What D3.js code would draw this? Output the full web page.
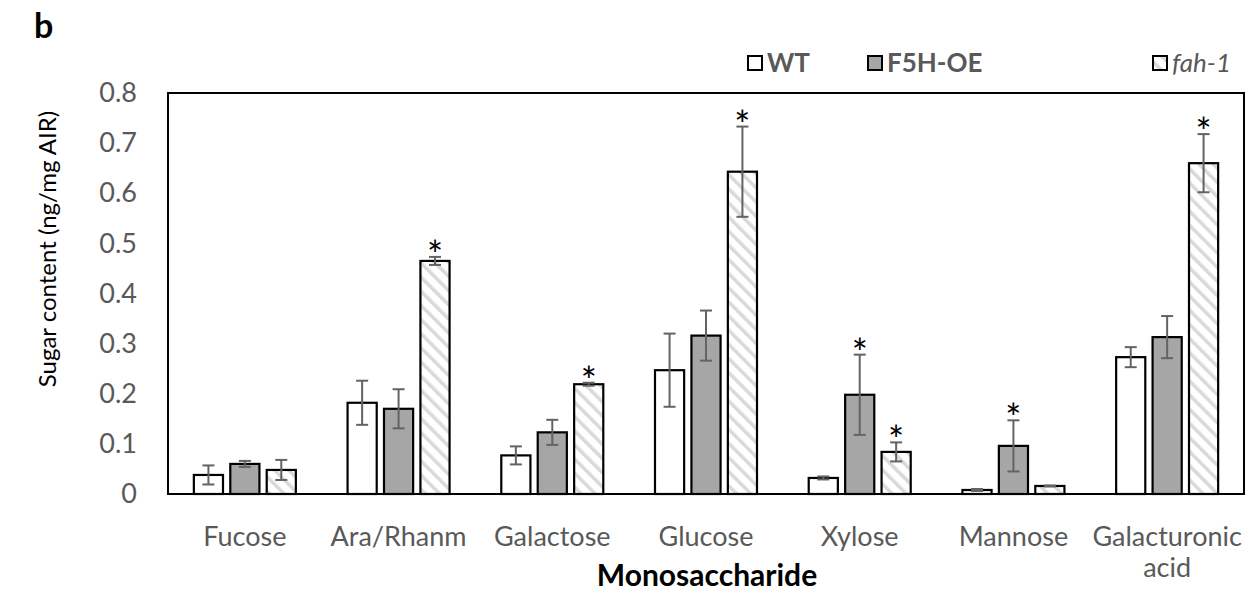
<!DOCTYPE html>
<html><head><meta charset="utf-8">
<script src="https://cdn.jsdelivr.net/npm/d3@7/dist/d3.min.js"></script>
<style>body{margin:0;background:#fff}svg{display:block}text{font-family:Lato,"Open Sans",sans-serif}</style>
</head><body><svg id="c" width="1247" height="593"></svg>
<script>
const categories = ["Fucose","Ara/Rhanm","Galactose","Glucose","Xylose","Mannose","Galacturonic acid"];
const seriesNames = ["WT","F5H-OE","fah-1"];
const wtValues   = [0.038,0.182,0.077,0.247,0.032,0.008,0.273];
const wtErrors   = [0.019,0.044,0.018,0.073,0.003,0.002,0.020];
const f5hValues  = [0.060,0.170,0.123,0.316,0.198,0.096,0.313];
const f5hErrors  = [0.006,0.039,0.025,0.050,0.080,0.051,0.042];
const fahValues  = [0.048,0.465,0.219,0.643,0.084,0.016,0.660];
const fahErrors  = [0.020,0.008,0.003,0.090,0.019,0.001,0.058];
const wtSig  = [0,0,0,0,0,0,0];
const f5hSig = [0,0,0,0,1,1,0];
const fahSig = [0,1,1,1,1,0,1];
const yTicks = [0,0.1,0.2,0.3,0.4,0.5,0.6,0.7,0.8];

const series = [
  {name:seriesNames[0], values:wtValues, errors:wtErrors, sig:wtSig, fill:"#ffffff"},
  {name:seriesNames[1], values:f5hValues, errors:f5hErrors, sig:f5hSig, fill:"#a6a6a6"},
  {name:seriesNames[2], values:fahValues, errors:fahErrors, sig:fahSig, fill:"url(#hatch)"}
];

const svg = d3.select("#c");
const L=168, R=1244, T=93, B=494;
const defs = svg.append("defs");
const pat = defs.append("pattern").attr("id","hatch").attr("patternUnits","userSpaceOnUse")
  .attr("width",10).attr("height",10).attr("patternTransform","rotate(-45)");
pat.append("rect").attr("width",10).attr("height",10).attr("fill","#fff");
pat.append("rect").attr("x",0).attr("y",0).attr("width",3.5).attr("height",10).attr("fill","#d9d9d9");

const x = d3.scaleBand().domain(categories).range([L,R]);
const xs = d3.scaleBand().domain(seriesNames).range([0,102]).paddingInner(0.2);
const y = d3.scaleLinear().domain([0,0.8]).range([B,T]);

svg.append("rect").attr("x",L).attr("y",T).attr("width",R-L).attr("height",B-T)
  .attr("fill","none").attr("stroke","#000").attr("stroke-width",2);

const yAxis = svg.append("g").attr("transform",`translate(${L},0)`)
  .call(d3.axisLeft(y).tickValues(yTicks).tickSize(0).tickPadding(31).tickFormat(d=>d===0?"0":d3.format(".1f")(d)));
yAxis.select(".domain").remove();
yAxis.selectAll("text").attr("font-size",27).attr("fill","#595959").attr("font-family","Lato,sans-serif");

series.forEach((s,si)=>{
  const g = svg.append("g");
  categories.forEach((c,i)=>{
    const cx = x(c) + x.bandwidth()/2 - 51 + xs(s.name);
    const w = xs.bandwidth();
    g.append("rect").attr("x",cx).attr("y",y(s.values[i])).attr("width",w).attr("height",y(0)-y(s.values[i]))
      .attr("fill",s.fill).attr("stroke","#000").attr("stroke-width",2.2);
    const mx = cx + w/2;
    const hi = y(s.values[i]+s.errors[i]), lo = y(s.values[i]-s.errors[i]);
    g.append("line").attr("x1",mx).attr("x2",mx).attr("y1",hi).attr("y2",lo).attr("stroke","#636363").attr("stroke-width",2);
    [hi,lo].forEach(v=>g.append("line").attr("x1",mx-6).attr("x2",mx+6).attr("y1",v).attr("y2",v).attr("stroke","#636363").attr("stroke-width",2));
    if(s.sig[i]) g.append("text").attr("x",mx).attr("y",hi+12).attr("text-anchor","middle")
      .attr("font-family","'Open Sans',sans-serif").attr("font-size",38).attr("fill","#000").text("*");
  });
});

categories.forEach(c=>{
  const cxp = x(c)+x.bandwidth()/2;
  const t = svg.append("text").attr("x",cxp).attr("y",546).attr("text-anchor","middle")
    .attr("font-size",27).attr("fill","#595959");
  if(c==="Galacturonic acid"){
    t.append("tspan").attr("x",cxp).attr("dy",0).text("Galacturonic");
    t.append("tspan").attr("x",cxp).attr("dy",31).text("acid");
  } else t.text(c);
});

svg.append("text").attr("x",707).attr("y",586).attr("text-anchor","middle").attr("font-size",30)
  .attr("font-weight","bold").attr("fill","#000").text("Monosaccharide");
svg.append("text").attr("transform","translate(56,249) rotate(-90)").attr("text-anchor","middle")
  .attr("font-size",24).attr("fill","#000").text("Sugar content (ng/mg AIR)");
svg.append("text").attr("x",34).attr("y",38).attr("font-size",34).attr("font-weight","bold").text("b");

const legX = [748,868,1153];
series.forEach((s,si)=>{
  svg.append("rect").attr("x",legX[si]).attr("y",56).attr("width",14).attr("height",14)
    .attr("fill",s.fill).attr("stroke","#000").attr("stroke-width",2);
  svg.append("text").attr("x",legX[si]+19).attr("y",72).attr("font-size",26).attr("fill","#595959")
    .attr("font-weight",si<2?"bold":"normal").attr("font-style",si===2?"italic":"normal").text(s.name);
});
</script></body></html>
